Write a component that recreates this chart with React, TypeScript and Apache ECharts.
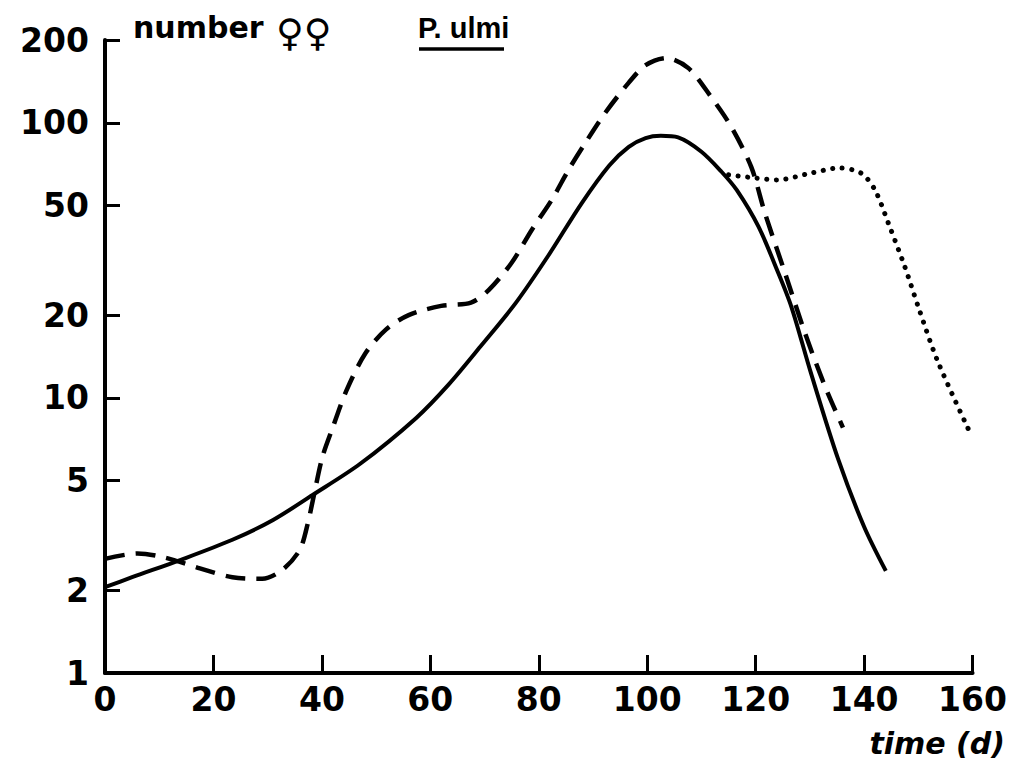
import React, { useEffect, useRef } from "react";
import * as echarts from "echarts";

const xTicks = [0, 20, 40, 60, 80, 100, 120, 140, 160];
const yTicks = [1, 2, 5, 10, 20, 50, 100, 200];

const solidX = [0, 5, 14, 23.5, 31, 38.3, 47, 57.4, 63.4, 69.5, 75.8, 81.8, 87.9, 93, 96.6, 99.7, 102.5, 105.7, 110, 113.7, 116.5, 120.5, 124, 126.6, 130.2, 135.2, 140, 144];
const solidY = [2.05, 2.23, 2.58, 3.05, 3.6, 4.44, 5.75, 8.46, 11.2, 15.6, 22.2, 33, 51, 70, 81.8, 88, 89.7, 88.5, 78.5, 66.4, 57, 42, 29, 21.4, 12.3, 6, 3.4, 2.35];

const dashX = [0, 6, 11, 17.5, 23.5, 29, 32.7, 35.9, 37.4, 38.6, 40.1, 42, 44.5, 48, 51.8, 56, 62, 67.5, 70.8, 75, 78.7, 82.4, 85.5, 88.6, 92.3, 96.6, 99.7, 103.5, 107.6, 111.8, 115.5, 119.2, 121.7, 125.4, 129.1, 132.8, 136.1];
const dashY = [2.6, 2.72, 2.63, 2.4, 2.23, 2.2, 2.37, 2.8, 3.5, 4.5, 6.1, 7.8, 10.6, 14.5, 17.7, 20, 21.6, 22.2, 24.7, 31, 40.8, 52.5, 67.5, 84.6, 109, 140, 162, 172, 158, 124, 96.7, 69, 47, 28.5, 17.2, 11, 7.8];

const dotX = [115, 120, 124, 130, 135.5, 139.5, 142, 144.5, 147.5, 150, 153.5, 159.5];
const dotY = [64.7, 63, 62, 65.5, 68.5, 65.5, 57, 43, 30, 21.4, 13.7, 7.5];

const zip = (xs: number[], ys: number[]) => xs.map((x, i) => [x, ys[i]]);

const FONT = "DejaVu Sans";

export default function App() {
  const ref = useRef<HTMLDivElement>(null);
  useEffect(() => {
    if (!ref.current) return;
    const chart = echarts.init(ref.current, undefined, { renderer: "svg" });
    chart.setOption({
      animation: false,
      backgroundColor: "#fff",
      grid: { left: 97, right: 35, top: 32, bottom: 102 },
      xAxis: {
        type: "value",
        min: 0,
        max: 160,
        interval: 20,
        splitLine: { show: false },
        axisLine: { show: true, lineStyle: { color: "#000", width: 4 } },
        axisTick: { show: true, inside: true, length: 18, lineStyle: { color: "#000", width: 3 } },
        axisLabel: {
          show: true,
          color: "#000",
          fontFamily: FONT,
          fontWeight: "bold",
          fontSize: 33,
          margin: 10,
          customValues: xTicks,
        },
      },
      yAxis: {
        type: "log",
        logBase: 10,
        min: 1,
        max: 200,
        splitLine: { show: false },
        minorTick: { show: false },
        axisLine: { show: true, lineStyle: { color: "#000", width: 4 } },
        axisTick: { show: true, inside: true, length: 15, lineStyle: { color: "#000", width: 3 }, customValues: yTicks },
        axisLabel: {
          show: true,
          color: "#000",
          fontFamily: FONT,
          fontWeight: "bold",
          fontSize: 33,
          margin: 16,
          customValues: yTicks,
        },
      },
      series: [
        {
          type: "line",
          data: zip(solidX, solidY),
          smooth: 0.3,
          showSymbol: false,
          lineStyle: { color: "#000", width: 4 },
        },
        {
          type: "line",
          data: zip(dashX, dashY),
          smooth: 0.3,
          showSymbol: false,
          lineStyle: { color: "#000", width: 4.5, type: [20, 11] },
        },
        {
          type: "line",
          data: zip(dotX, dotY),
          smooth: 0.3,
          showSymbol: false,
          lineStyle: { color: "#000", width: 5, type: [0.1, 9.5], cap: "round" },
        },
      ],
      graphic: [
        {
          type: "text",
          left: 125,
          top: 4,
          style: { text: "number", fill: "#000", font: `bold 30px "${FONT}"` },
        },
        {
          type: "text",
          left: 268,
          top: 6,
          style: { text: "♀♀", fill: "#000", font: `bold 38px "${FONT}"` },
        },
        {
          type: "text",
          left: 410,
          top: 5,
          style: { text: "P. ulmi", fill: "#000", font: `bold 29px "Liberation Sans"` },
        },
        {
          type: "line",
          shape: { x1: 411, y1: 41, x2: 496, y2: 41 },
          style: { stroke: "#000", lineWidth: 3.5 },
        },
        {
          type: "text",
          right: 5,
          top: 720,
          style: { text: "time (d)", fill: "#000", font: `italic bold 30px "${FONT}"` },
        },
      ],
    });
    return () => chart.dispose();
  }, []);
  return <div ref={ref} style={{ width: 1002, height: 767 }} />;
}
